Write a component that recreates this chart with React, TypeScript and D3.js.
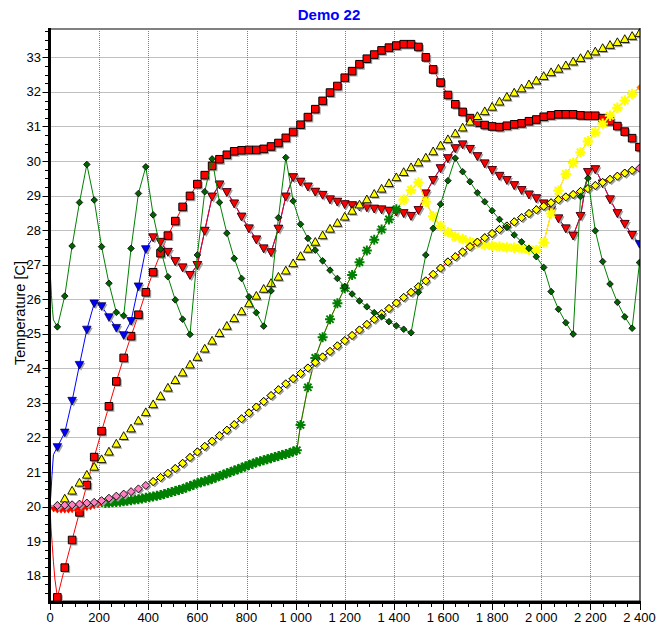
import React from "react";
import * as d3 from "d3";

// ---------- DATA ----------
const TIME = [0, 30, 60, 90, 120, 150, 180, 210, 240, 270, 300, 330, 360, 390, 420, 450, 480, 510, 540, 570, 600, 630, 660, 690, 720, 750, 780, 810, 840, 870, 900, 930, 960, 990, 1020, 1050, 1080, 1110, 1140, 1170, 1200, 1230, 1260, 1290, 1320, 1350, 1380, 1410, 1440, 1470, 1500, 1530, 1560, 1590, 1620, 1650, 1680, 1710, 1740, 1770, 1800, 1830, 1860, 1890, 1920, 1950, 1980, 2010, 2040, 2070, 2100, 2130, 2160, 2190, 2220, 2250, 2280, 2310, 2340, 2370, 2400];

// red squares (TIME[1..80]) with start transient
const SQ_START_T = [0, 4, 9, 14, 20];
const SQ_START_V = [20.0, 19.4, 18.9, 18.4, 17.9];
const RED_SQUARES = [
  17.37, 18.23, 19.03, 19.83, 20.62, 21.43, 22.18, 22.9, 23.62, 24.3,
  24.93, 25.55, 26.2, 26.78, 27.33, 27.84, 28.26, 28.67, 28.99, 29.33,
  29.59, 29.86, 30.05, 30.18, 30.28, 30.31, 30.32, 30.32, 30.35, 30.42,
  30.52, 30.67, 30.84, 31.05, 31.27, 31.5, 31.74, 31.98, 32.17, 32.41,
  32.6, 32.8, 32.96, 33.08, 33.2, 33.28, 33.34, 33.38, 33.38, 33.3,
  33.0, 32.65, 32.27, 31.91, 31.64, 31.42, 31.24, 31.11, 31.04, 31.0,
  30.98, 31.02, 31.06, 31.09, 31.15, 31.2, 31.28, 31.32, 31.35, 31.35,
  31.35, 31.32, 31.31, 31.31, 31.24, 31.15, 31.01, 30.85, 30.66, 30.4,
];

// blue / red down-triangles (TIME[1..80])
const TRI_START_T = [0, 3, 8, 14];
const TRI_START_V = [20.0, 20.3, 20.9, 21.5];
const DOWN_TRI = [
  21.72, 22.14, 23.06, 24.1, 25.12, 25.88, 25.8, 25.48, 25.17, 24.96,
  25.37, 26.37, 27.45, 27.79, 27.66, 27.37, 27.1, 26.92, 26.7, 26.99,
  27.98, 28.97, 29.32, 29.1, 28.77, 28.39, 28.05, 27.73, 27.47, 27.36,
  28.04, 28.97, 29.53, 29.4, 29.26, 29.11, 29.02, 28.89, 28.82, 28.75,
  28.72, 28.68, 28.66, 28.62, 28.6, 28.56, 28.53, 28.49, 28.41, 28.58,
  29.06, 29.45, 29.79, 30.08, 30.37, 30.48, 30.35, 30.14, 29.93, 29.74,
  29.57, 29.45, 29.3, 29.16, 29.03, 28.92, 28.77, 28.58, 28.34, 28.05,
  27.84, 28.41, 29.68, 29.76, 29.35, 28.89, 28.49, 28.18, 27.86, 27.6,
];
const RED_TRI_FROM = 13; // index into DOWN_TRI
const RED_TRI_TO = 78;

// yellow up-triangles (TIME[0..80])
const UP_TRI = [
  20.0, 20.01, 20.23, 20.46, 20.69, 20.92, 21.15, 21.37, 21.59, 21.82,
  22.04, 22.26, 22.49, 22.73, 22.96, 23.2, 23.44, 23.66, 23.88, 24.11,
  24.33, 24.57, 24.8, 25.02, 25.23, 25.45, 25.65, 25.88, 26.1, 26.3,
  26.47, 26.65, 26.83, 27.04, 27.25, 27.46, 27.66, 27.85, 28.04, 28.21,
  28.39, 28.56, 28.74, 28.89, 29.05, 29.2, 29.36, 29.53, 29.68, 29.82,
  29.96, 30.1, 30.28, 30.45, 30.63, 30.8, 30.97, 31.14, 31.3, 31.44,
  31.57, 31.72, 31.86, 31.98, 32.1, 32.22, 32.33, 32.46, 32.57, 32.67,
  32.77, 32.88, 32.98, 33.08, 33.17, 33.27, 33.36, 33.44, 33.53, 33.62,
  33.7,
];

// pink / yellow diamonds (TIME[0..80])
const DIAMONDS = [
  20.0, 20.03, 20.04, 20.05, 20.07, 20.1, 20.12, 20.17, 20.24, 20.3,
  20.36, 20.43, 20.51, 20.61, 20.72, 20.84, 20.96, 21.1, 21.25, 21.42,
  21.58, 21.74, 21.89, 22.05, 22.21, 22.37, 22.54, 22.71, 22.88, 23.04,
  23.21, 23.38, 23.55, 23.7, 23.85, 24.01, 24.17, 24.33, 24.49, 24.65,
  24.8, 24.95, 25.11, 25.27, 25.42, 25.58, 25.73, 25.89, 26.05, 26.2,
  26.36, 26.53, 26.72, 26.9, 27.08, 27.23, 27.37, 27.52, 27.65, 27.78,
  27.9, 28.02, 28.12, 28.24, 28.36, 28.48, 28.59, 28.69, 28.79, 28.88,
  28.96, 29.03, 29.12, 29.2, 29.29, 29.38, 29.47, 29.56, 29.65, 29.73,
  29.79,
];
const YDIA_FROM = 14;
const YDIA_SPLIT = 38;
const YDIA_TO = 79;

// dark green diamonds (TIME[1..80]) with start transient
const GD_START_T = [0, 3, 6, 10, 14];
const GD_START_V = [26.8, 26.5, 26.1, 25.7, 25.4];
const GREEN_DIA = [
  25.2, 26.09, 27.54, 28.8, 29.9, 28.87, 27.52, 26.46, 25.62, 25.52,
  27.47, 29.06, 29.83, 28.44, 27.45, 26.65, 25.98, 25.42, 24.98, 27.28,
  29.11, 30.06, 28.8, 27.91, 27.18, 26.6, 26.07, 25.61, 25.22, 26.24,
  28.36, 30.1, 28.84, 28.17, 27.76, 27.42, 27.11, 26.84, 26.6, 26.36,
  26.15, 25.95, 25.78, 25.61, 25.49, 25.35, 25.23, 25.13, 25.03, 26.2,
  27.28, 28.05, 28.75, 29.43, 30.08, 29.69, 29.4, 29.08, 28.82, 28.56,
  28.31, 28.08, 27.86, 27.66, 27.47, 27.23, 26.92, 26.22, 25.71, 25.32,
  24.99, 28.97, 29.5, 27.98, 27.09, 26.44, 25.91, 25.49, 25.16, 27.06,
];

// star-type series (orange / red / green / yellow share this data)
const STAR_T_START = [0, 15, 30, 45, 60, 75, 90, 105, 120, 135, 150, 165, 180, 195, 210];
const STAR_T_SLOW = [225, 240, 255, 270, 285, 300, 315, 330, 345, 360, 375, 390, 405, 420, 435, 450, 465, 480, 495, 510, 525, 540, 555, 570, 585, 600, 615, 630, 645, 660, 675, 690, 705, 720, 735, 750, 765, 780, 795, 810, 825, 840, 855, 870, 885, 900, 915, 930, 945, 960, 975, 990, 1005];
const STAR_T_FAST = [1020, 1050, 1080, 1110, 1140, 1170, 1200, 1230, 1260, 1290, 1320, 1350, 1380, 1410, 1440, 1470, 1500, 1530, 1560, 1590, 1620, 1650, 1680, 1710, 1740, 1770, 1800, 1830, 1860, 1890, 1920, 1950, 1980, 2010, 2040, 2070, 2100, 2130, 2160, 2190, 2220, 2250, 2280, 2310, 2340, 2370, 2400];
const STAR_V_START = [20.0, 19.93, 19.9, 19.9, 19.9, 19.9, 19.91, 19.92, 19.93, 19.95, 19.97, 19.99, 20.02, 20.05, 20.08];
const STAR_V_SLOW = [
  20.1, 20.11, 20.12, 20.13, 20.14, 20.15, 20.17, 20.18, 20.2, 20.21,
  20.23, 20.25, 20.27, 20.29, 20.31, 20.33, 20.36, 20.39, 20.42, 20.45,
  20.48, 20.51, 20.55, 20.59, 20.63, 20.67, 20.7, 20.73, 20.76, 20.8,
  20.84, 20.88, 20.92, 20.96, 21.0, 21.04, 21.08, 21.12, 21.16, 21.2,
  21.24, 21.28, 21.31, 21.34, 21.37, 21.4, 21.43, 21.46, 21.49, 21.52,
  21.55, 21.59, 21.63,
];
const STAR_V_FAST = [
  22.36, 23.45, 24.3, 24.9, 25.42, 25.88, 26.32, 26.7, 27.07, 27.41,
  27.72, 28.02, 28.31, 28.6, 28.88, 29.16, 29.38, 28.82, 28.4, 28.12,
  27.94, 27.81, 27.74, 27.66, 27.62, 27.57, 27.54, 27.52, 27.5, 27.49,
  27.47, 27.44, 27.42, 27.64, 28.48, 29.14, 29.62, 29.94, 30.25, 30.57,
  30.83, 31.08, 31.31, 31.54, 31.75, 31.94, 32.13,
];

// ---------- LAYOUT ----------
const W = 659;
const H = 625;
const PL = 49.5, PR = 640, PT = 29, PB = 601;
const x = d3.scaleLinear().domain([0, 2400]).range([50, 639.5]);
const y = d3.scaleLinear().domain([17.265, 33.82]).range([PB, PT]);

type Pt = [number, number];
const zip = (ts: number[], vs: number[]): Pt[] => ts.map((t, i) => [t, vs[i]] as Pt);
const lineGen = d3.line<Pt>().x((d) => x(d[0])).y((d) => y(d[1]));

const FONT = "'Liberation Sans', Arial, sans-serif";
const fmt = d3.formatLocale({ decimal: ".", thousands: " ", grouping: [3], currency: ["", ""] }).format(",");

// marker shapes
const sq = (s: number) => `M${-s},${-s}H${s}V${s}H${-s}Z`;
const triDown = (r: number) => `M${-r},${-0.8 * r}L${r},${-0.8 * r}L0,${r}Z`;
const triUp = (r: number) => `M${-r},${0.8 * r}L${r},${0.8 * r}L0,${-r}Z`;
const dia = (r: number) => `M0,${-r}L${r},0L0,${r}L${-r},0Z`;
const star = (r: number) => {
  const k = r * 0.72;
  return `M${-r},0H${r}M0,${-r}V${r}M${-k},${-k}L${k},${k}M${-k},${k}L${k},${-k}`;
};

function Line({ pts, color, width = 1 }: { pts: Pt[]; color: string; width?: number }) {
  return <path d={lineGen(pts) || ""} fill="none" stroke={color} strokeWidth={width} strokeLinejoin="round" />;
}

function Marks({ pts, d, fill, stroke, sw = 1, shadow = false }: { pts: Pt[]; d: string; fill: string; stroke: string; sw?: number; shadow?: boolean }) {
  return (
    <g>
      {pts.map(([t, v], i) => (
        <g key={i} transform={`translate(${x(t)},${y(v)})`}>
          {shadow && <path d={d} fill="#a3a3a3" transform="translate(1.6,1.6)" />}
          <path d={d} fill={fill} stroke={stroke} strokeWidth={sw} strokeLinejoin="miter" />
        </g>
      ))}
    </g>
  );
}

export default function App() {
  const grid = TIME.slice(1);

  const sqStart = zip(SQ_START_T, SQ_START_V);
  const sqPts = zip(grid, RED_SQUARES);

  const triStart = zip(TRI_START_T, TRI_START_V);
  const triPts = zip(grid, DOWN_TRI);
  const redTri = triPts.slice(RED_TRI_FROM, RED_TRI_TO + 1);

  const upPts = zip(TIME, UP_TRI);
  const diaPts = zip(TIME, DIAMONDS);

  const gdStart = zip(GD_START_T, GD_START_V);
  const gdPts = zip(grid, GREEN_DIA);

  const starPts = zip(
    [...STAR_T_START, ...STAR_T_SLOW, ...STAR_T_FAST],
    [...STAR_V_START, ...STAR_V_SLOW, ...STAR_V_FAST]
  );
  const nStart = STAR_T_START.length; // 15
  const greenEnd = nStart + STAR_T_SLOW.length + 13; // index of t=1410
  const yellowEnd = starPts.length - 2; // t=2370

  const xMajor = x.ticks(12);
  const xMinor = x.ticks(48).filter((t) => !xMajor.includes(t));
  const yMajor = y.ticks(16);
  const yMinor = d3.range(17.5, 33.8, 0.25).filter((v) => Math.abs(v - Math.round(v)) > 1e-6);

  const rx = (v: number) => Math.round(x(v)) + 0.5;
  const ry = (v: number) => Math.round(y(v)) + 0.5;

  return (
    <svg width={W} height={H} style={{ position: "absolute", left: 0, top: 0, background: "#fff" }} fontFamily={FONT}>
      <defs>
        <clipPath id="plot">
          <rect x={PL} y={PT} width={PR - PL} height={PB - PT} />
        </clipPath>
      </defs>
      <rect x={0} y={0} width={W} height={H} fill="#fff" />

      {/* title */}
      <text x={329} y={20} textAnchor="middle" fontSize={15} fontWeight="bold" fill="#0000ff">Demo 22</text>

      {/* grid */}
      <g stroke="#808080" strokeWidth={1} strokeDasharray="1 1">
        {xMajor.filter((t) => t > 0 && t < 2400).map((t) => (
          <line key={"gx" + t} x1={rx(t)} x2={rx(t)} y1={PT} y2={PB} />
        ))}
        {yMajor.map((v) => (
          <line key={"gy" + v} x1={PL} x2={PR} y1={ry(v)} y2={ry(v)} />
        ))}
      </g>

      {/* frame */}
      <line x1={PL} x2={PR} y1={PT} y2={PT} stroke="#808080" strokeWidth={2} />
      <line x1={PL} x2={PR} y1={PB - 0.5} y2={PB - 0.5} stroke="#909090" strokeWidth={1} />

      {/* series */}
      <g clipPath="url(#plot)">
        {/* red squares */}
        <Line pts={[...sqStart, ...sqPts]} color="#ff0000" />
        <Marks pts={sqPts} d={sq(3.8)} fill="#ff0000" stroke="#000" sw={1} shadow />

        {/* blue down-triangles (full) */}
        <Line pts={[...triStart, ...triPts]} color="#0000ff" />
        <Marks pts={triPts} d={triDown(4.3)} fill="#0000ff" stroke="#000030" sw={0.7} shadow />

        {/* red down-triangles */}
        <Line pts={redTri} color="#ff0000" />
        <Marks pts={redTri} d={triDown(4.3)} fill="#ff0000" stroke="#300000" sw={0.7} shadow />

        {/* yellow up-triangles */}
        <Line pts={upPts} color="#ffff00" />
        <Marks pts={upPts.slice(1)} d={triUp(4.3)} fill="#ffff00" stroke="#000" sw={0.9} shadow />

        {/* orange (full star data) */}
        <Line pts={starPts} color="#ff8000" />
        <Marks pts={starPts} d={dia(2.8)} fill="#ff8000" stroke="#ff8000" sw={0.5} />

        {/* red small markers at start */}
        <Line pts={starPts.slice(0, nStart + 1)} color="#ff0000" width={1.5} />
        <Marks pts={starPts.slice(1, nStart)} d={triDown(3.2)} fill="#ff0000" stroke="#ff0000" sw={0.5} />

        {/* yellow stars */}
        <Line pts={starPts.slice(greenEnd, yellowEnd + 1)} color="#ffff00" />
        <Marks pts={starPts.slice(greenEnd + 1, yellowEnd + 1)} d={star(5.2)} fill="none" stroke="#ffff00" sw={2.2} />

        {/* green stars */}
        <Line pts={starPts.slice(nStart - 1, greenEnd + 1)} color="#008000" />
        <Marks pts={starPts.slice(nStart, greenEnd + 1)} d={star(5)} fill="none" stroke="#008000" sw={2} />

        {/* pink diamonds (full) */}
        <Line pts={diaPts} color="#ff80c0" />
        <Marks pts={diaPts.slice(1)} d={dia(4)} fill="#ff80c0" stroke="#000" sw={0.9} shadow />

        {/* yellow diamonds */}
        <Line pts={diaPts.slice(YDIA_FROM, YDIA_SPLIT + 1)} color="#0000ff" />
        <Line pts={diaPts.slice(YDIA_SPLIT, YDIA_TO + 1)} color="#ff0000" />
        <Marks pts={diaPts.slice(YDIA_FROM, YDIA_TO + 1)} d={dia(4)} fill="#ffff00" stroke="#000" sw={0.9} shadow />

        {/* dark green diamonds */}
        <Line pts={[...gdStart, ...gdPts]} color="#008000" />
        <Marks pts={gdPts} d={dia(3.3)} fill="#006400" stroke="#000" sw={0.8} />
      </g>

      {/* right border */}
      <line x1={PR} x2={PR} y1={PT - 1} y2={PB + 1} stroke="#000" strokeWidth={1.2} />

      {/* axes */}
      <line x1={PL} x2={PL} y1={PT - 1} y2={PB + 3} stroke="#000" strokeWidth={3} />
      <line x1={PL - 1.5} x2={PR + 1} y1={PB + 1.5} y2={PB + 1.5} stroke="#000" strokeWidth={3} />

      {/* ticks */}
      <g stroke="#000" strokeWidth={1}>
        {yMajor.map((v) => (
          <line key={"yt" + v} x1={42.5} x2={48} y1={ry(v)} y2={ry(v)} />
        ))}
        {yMinor.map((v) => (
          <line key={"ym" + v} x1={45} x2={48} y1={ry(v)} y2={ry(v)} />
        ))}
        {xMajor.map((t) => (
          <line key={"xt" + t} x1={rx(t)} x2={rx(t)} y1={PB + 3} y2={PB + 9} />
        ))}
        {xMinor.map((t) => (
          <line key={"xm" + t} x1={rx(t)} x2={rx(t)} y1={PB + 3} y2={PB + 6} />
        ))}
      </g>
      <g fontSize={13} fill="#000">
        {yMajor.map((v) => (
          <text key={"yl" + v} x={41} y={y(v) + 4.6} textAnchor="end">{v}</text>
        ))}
        {xMajor.map((t) => (
          <text key={"xl" + t} x={x(t)} y={621.5} textAnchor="middle">{fmt(t)}</text>
        ))}
      </g>

      {/* axis title */}
      <text transform="translate(25,313) rotate(-90)" textAnchor="middle" fontSize={14.5} fill="#000">Temperature [C]</text>
    </svg>
  );
}
